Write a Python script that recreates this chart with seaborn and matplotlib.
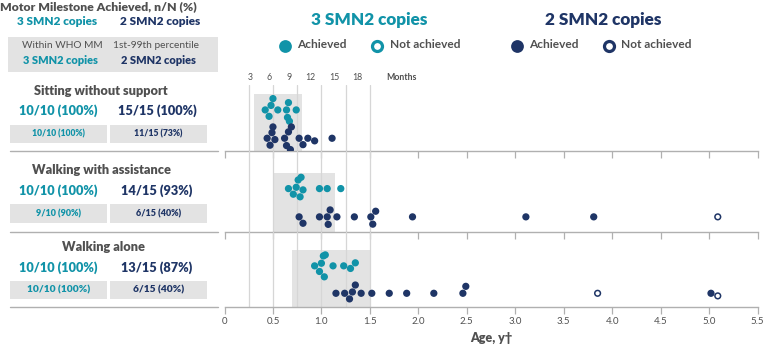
import numpy as np
import pandas as pd
import matplotlib
matplotlib.use("Agg")
import matplotlib.pyplot as plt
import seaborn as sns
from matplotlib.patches import Rectangle
from matplotlib.lines import Line2D

# ---------------- data ----------------
milestones = ["Sitting without support", "Walking with assistance", "Walking alone"]
achieved_3 = ["10/10 (100%)", "10/10 (100%)", "10/10 (100%)"]
achieved_2 = ["15/15 (100%)", "14/15 (93%)", "13/15 (87%)"]
within_who_3 = ["10/10 (100%)", "9/10 (90%)", "10/10 (100%)"]
within_who_2 = ["11/15 (73%)", "6/15 (40%)", "6/15 (40%)"]

# WHO motor milestone windows (years)
who_windows = [(0.30, 0.80), (0.50, 1.14), (0.70, 1.50)]

# ages (years) at milestone achievement / last visit
sit_3 = [0.42, 0.46, 0.48, 0.50, 0.55, 0.64, 0.65, 0.66, 0.67, 0.74]
sit_2 = [0.44, 0.47, 0.49, 0.50, 0.52, 0.62, 0.64, 0.66, 0.68, 0.69, 0.77, 0.81, 0.86, 0.93, 1.11]
sit_2_not = []

walk_assist_3 = [0.66, 0.71, 0.74, 0.76, 0.78, 0.79, 0.81, 0.98, 1.06, 1.20]
walk_assist_2 = [0.77, 0.81, 0.98, 1.06, 1.07, 1.09, 1.16, 1.34, 1.51, 1.53, 1.56, 1.94, 3.11, 3.81]
walk_assist_2_not = [5.09]

walk_alone_3 = [0.93, 0.98, 1.00, 1.02, 1.03, 1.04, 1.12, 1.23, 1.30, 1.35]
walk_alone_2 = [1.15, 1.24, 1.29, 1.32, 1.35, 1.41, 1.52, 1.70, 1.88, 2.16, 2.46, 2.49, 5.02]
walk_alone_2_not = [3.85, 5.09]

month_ticks = [3, 6, 9, 12, 15, 18]
age_ticks = [0, 0.5, 1.0, 1.5, 2.0, 2.5, 3.0, 3.5, 4.0, 4.5, 5.0, 5.5]
age_tick_labels = ["0", "0.5", "1.0", "1.5", "2.0", "2.5", "3.0", "3.5", "4.0", "4.5", "5.0", "5.5"]

panels = [
    (sit_3, [], sit_2, sit_2_not),
    (walk_assist_3, [], walk_assist_2, walk_assist_2_not),
    (walk_alone_3, [], walk_alone_2, walk_alone_2_not),
]

# ---------------- style ----------------
TEAL = "#1193a8"
NAVY = "#1f3566"
GRAY_TXT = "#505050"
BOX = "#e3e3e3"
GRID = "#d6d6d6"
AXC = "#b0b0b0"
HEAVY = "heavy"

sns.set_theme(style="white")
plt.rcParams["font.family"] = ["Lato", "DejaVu Sans"]

W, H = 767, 353
fig = plt.figure(figsize=(W / 100, H / 100), dpi=100)
fig.patch.set_facecolor("white")


def fx(x):
    return x / W


def fy(y):
    return 1 - y / H


def txt(x, y, s, size, color, weight=HEAVY, ha="center", va="center"):
    fig.text(fx(x), fy(y), s, fontsize=size, color=color, fontweight=weight,
             ha=ha, va=va)


# axes layout: (top px, bottom px, ylim, box top in data)
ax_specs = [
    (85.0, 151.0, (1.45, -0.88), -0.565),
    (151.0, 231.7, (1.525, -1.33), -0.54),
    (231.7, 307.0, (1.50, -1.245), -0.586),
]
x_left, x_right = 224.5, 757.5

axes = []
for i, (top, bot, ylim, boxtop) in enumerate(ax_specs):
    ax = fig.add_axes([fx(x_left), fy(bot), (x_right - x_left) / W, (bot - top) / H])
    ax.patch.set_alpha(0)
    t3, t3n, t2, t2n = panels[i]
    rows = []
    for v in t3:
        rows.append((v, "3", "achieved"))
    for v in t3n:
        rows.append((v, "3", "not"))
    for v in t2:
        rows.append((v, "2", "achieved"))
    for v in t2n:
        rows.append((v, "2", "not"))
    df = pd.DataFrame(rows, columns=["age", "copies", "status"])

    for grp, color in [("3", TEAL), ("2", NAVY)]:
        sub = df[df.copies == grp].reset_index(drop=True)
        n0 = len(ax.collections)
        sns.swarmplot(data=sub, x="age", y="copies", order=["3", "2"], color=color,
                      size=4.1, ax=ax, orient="h", linewidth=1.1, edgecolor=color,
                      zorder=3)
        not_vals = sub.loc[sub.status == "not", "age"].values
        for coll in ax.collections[n0:]:
            offs = np.asarray(coll.get_offsets())
            if len(offs) == 0:
                continue
            fcs = []
            for xv in offs[:, 0]:
                if len(not_vals) and np.any(np.isclose(xv, not_vals)):
                    fcs.append("white")
                else:
                    fcs.append(color)
            coll.set_facecolors(fcs)
            coll.set_edgecolors([color] * len(fcs))
            coll.set_zorder(3)

    ax.set_xlim(0, 5.5)
    ax.set_ylim(*ylim)
    # WHO window
    x0, x1 = who_windows[i]
    ax.fill_betweenx([boxtop, ylim[0]], x0, x1, color=BOX, lw=0, zorder=0)
    for m in month_ticks:
        ax.axvline(m / 12, color=GRID, lw=0.9, zorder=0.5)
    ax.set_yticks([])
    ax.set_ylabel("")
    ax.set_xticks(age_ticks)
    for s in ["left", "top", "right"]:
        ax.spines[s].set_visible(False)
    ax.spines["bottom"].set_color(AXC)
    ax.spines["bottom"].set_linewidth(1.0)
    ax.tick_params(axis="x", direction="out", length=5, width=0.9, color=AXC,
                   labelsize=7, labelcolor=GRAY_TXT, pad=2.5, bottom=True)
    if i < 2:
        ax.tick_params(axis="x", labelbottom=False)
        ax.set_xlabel("")
    else:
        ax.set_xticklabels(age_tick_labels)
        ax.set_xlabel("Age, y\u2020", fontsize=9, fontweight=HEAVY, color=GRAY_TXT,
                      labelpad=4)
    axes.append(ax)

# month labels
month_px = [250, 269.5, 289, 310, 334, 357.5]
for m, xp in zip(month_ticks, month_px):
    txt(xp, 78, str(m), 6.3, GRAY_TXT, weight="normal")
txt(401.5, 78, "Months", 6.3, GRAY_TXT, weight="bold")

# ---------------- left text panel ----------------
txt(0, 7, "Motor Milestone Achieved, n/N (%)", 8.8, GRAY_TXT, ha="left")
txt(57, 21.5, "3 SMN2 copies", 8.5, TEAL)
txt(160, 21.5, "2 SMN2 copies", 8.5, NAVY)

fig.add_artist(Rectangle((fx(8), fy(71.5)), (218 - 8) / W, (71.5 - 36.5) / H,
                         transform=fig.transFigure, facecolor=BOX, lw=0, zorder=0))
txt(62, 45.5, "Within WHO MM", 7.3, GRAY_TXT, weight="normal")
txt(156, 45.5, "1st-99th percentile", 7.3, GRAY_TXT, weight="normal")
txt(60, 60.5, "3 SMN2 copies", 7.9, TEAL)
txt(158, 60.5, "2 SMN2 copies", 7.9, NAVY)

title_y = [91, 170.5, 247]
count_y = [111, 191, 267.5]
box_y = [(125, 143.3), (204.3, 222.7), (281, 299.3)]
box_fs = [6.2, 6.5, 7.3]
sep_y = [151, 231.5, 306.7]
for i in range(3):
    txt(101 if i < 2 else 104, title_y[i], milestones[i], 9.2, GRAY_TXT)
    txt(58.5, count_y[i], achieved_3[i], 9.2, TEAL)
    txt(157, count_y[i], achieved_2[i], 9.2, NAVY)
    b0, b1 = box_y[i]
    for (l, r) in [(10, 106.7), (110, 207.3)]:
        fig.add_artist(Rectangle((fx(l), fy(b1)), (r - l) / W, (b1 - b0) / H,
                                 transform=fig.transFigure, facecolor=BOX, lw=0, zorder=0))
    txt(58.3, (b0 + b1) / 2, within_who_3[i], box_fs[i], TEAL)
    txt(158.6, (b0 + b1) / 2, within_who_2[i], box_fs[i], NAVY)
    fig.add_artist(Line2D([fx(10), fx(218)], [fy(sep_y[i]), fy(sep_y[i])],
                          transform=fig.transFigure, color=AXC, lw=1.0))

# ---------------- legend ----------------
txt(369, 20.5, "3 SMN2 copies", 12.3, TEAL)
txt(603, 20.5, "2 SMN2 copies", 12.3, NAVY)
legend_items = [
    (285, TEAL, True, "Achieved"),
    (377, TEAL, False, "Not achieved"),
    (516.5, NAVY, True, "Achieved"),
    (608.5, NAVY, False, "Not achieved"),
]
for xp, col, filled, lab in legend_items:
    fig.add_artist(Line2D([fx(xp)], [fy(45.5)], transform=fig.transFigure,
                          marker="o", markersize=9.2 if filled else 7.2,
                          markerfacecolor=col if filled else "white",
                          markeredgecolor=col, markeredgewidth=0 if filled else 2.3,
                          linestyle="none"))
    txt(xp + 12.5, 44.5, lab, 8.6, GRAY_TXT, weight="bold", ha="left")

fig.savefig("out.png", dpi=100, facecolor="white")
